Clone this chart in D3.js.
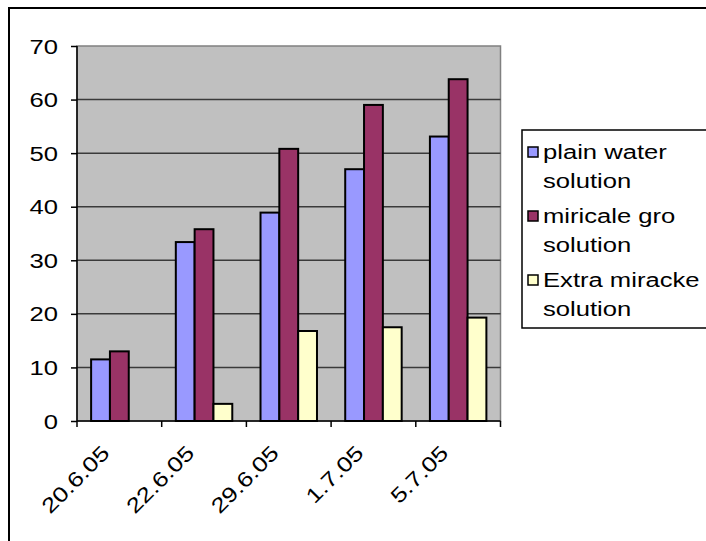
<!DOCTYPE html>
<html><head><meta charset="utf-8">
<script src="https://cdn.jsdelivr.net/npm/d3@7"></script>
<style>body{margin:0;background:#fff}svg{display:block}text{font-family:"Liberation Sans",Arial,sans-serif;fill:#000}</style>
</head><body><svg id="c" width="706" height="541"></svg>
<script>
const categories = ["20.6.05","22.6.05","29.6.05","1.7.05","5.7.05"];
const seriesNames = [["plain water","solution"],["miricale gro","solution"],["Extra miracke","solution"]];
const plainWater = [11.5,33.4,38.9,47,53.1];
const miracleGro = [13,35.8,50.8,59,63.8];
const extraMiracle = [null,3.2,16.8,17.5,19.3];
const yTicks = [0,10,20,30,40,50,60,70];
const colors = ["#9999FF","#993366","#FFFFCC"];
const series = [plainWater, miracleGro, extraMiracle];

const FS = 21, SX = 1.22;
const svg = d3.select("#c");
const L=77, R=500.5, T=46, B=421;
svg.append("rect").attr("x",9).attr("y",8).attr("width",720).attr("height",560)
  .attr("fill","none").attr("stroke","#000").attr("stroke-width",2);

const x = d3.scaleBand().domain(categories).range([L,R]).paddingInner(0).paddingOuter(0);
const y = d3.scaleLinear().domain([0,70]).range([B,T]);
const xs = d3.scaleBand().domain([0,1,2]).range([0,x.bandwidth()]).paddingInner(0).paddingOuter(0.75);

svg.append("rect").attr("x",L).attr("y",T).attr("width",R-L).attr("height",B-T)
  .attr("fill","#C0C0C0").attr("stroke","#808080").attr("stroke-width",1.5);

svg.append("g").selectAll("line").data(yTicks.filter(d=>d>0&&d<70)).join("line")
  .attr("x1",L).attr("x2",R).attr("y1",d=>y(d)).attr("y2",d=>y(d))
  .attr("stroke","#3a3a3a").attr("stroke-width",1.5);

series.forEach((vals,si)=>{
  svg.append("g").selectAll("rect").data(categories.map((c,i)=>({c,v:vals[i]})).filter(d=>d.v!=null)).join("rect")
    .attr("x",d=>x(d.c)+xs(si)).attr("width",xs.bandwidth())
    .attr("y",d=>y(d.v)).attr("height",d=>B-y(d.v))
    .attr("fill",colors[si]).attr("stroke","#000").attr("stroke-width",2);
});

const ya = svg.append("g").attr("transform",`translate(${L},0)`)
  .call(d3.axisLeft(y).tickValues(yTicks).tickSize(6).tickFormat(""));
ya.select(".domain").attr("stroke","#000").attr("stroke-width",1.5).attr("d",`M0,${T}V${B}`);
ya.selectAll(".tick line").attr("stroke","#000").attr("stroke-width",1.5);
svg.append("g").selectAll("text").data(yTicks).join("text")
  .attr("transform",d=>`translate(${L-19},${y(d)}) scale(${SX},1)`)
  .attr("text-anchor","end").attr("dy","0.36em").style("font-size",FS+"px").text(d=>d3.format("d")(d));

const xa = svg.append("g").attr("transform",`translate(0,${B})`);
xa.append("line").attr("x1",L).attr("x2",R).attr("stroke","#000").attr("stroke-width",1.5);
xa.selectAll(".tk").data(categories.map(c=>x(c)).concat([R])).join("line").attr("class","tk")
  .attr("x1",d=>d).attr("x2",d=>d).attr("y1",0).attr("y2",6).attr("stroke","#000").attr("stroke-width",1.5);
xa.selectAll("text").data(categories).join("text")
  .attr("transform",d=>`translate(${x(d)+x.bandwidth()/2-19},23) rotate(-45) scale(${SX},1)`)
  .attr("text-anchor","end").attr("dy","0.7em").style("font-size",FS+"px").text(d=>d);

const lg = svg.append("g");
lg.append("rect").attr("x",522).attr("y",130).attr("width",200).attr("height",198)
  .attr("fill","#fff").attr("stroke","#000").attr("stroke-width",1.5);
seriesNames.forEach((lines,i)=>{
  const cy = 152 + i*64;
  lg.append("rect").attr("x",528).attr("y",cy-5).attr("width",10).attr("height",10)
    .attr("fill",colors[i]).attr("stroke","#000").attr("stroke-width",1.5);
  lines.forEach((t,j)=>{
    lg.append("text").attr("transform",`translate(543,${cy+j*29}) scale(${SX},1)`)
      .attr("dy","0.35em").style("font-size",FS+"px").text(t);
  });
});
</script></body></html>
